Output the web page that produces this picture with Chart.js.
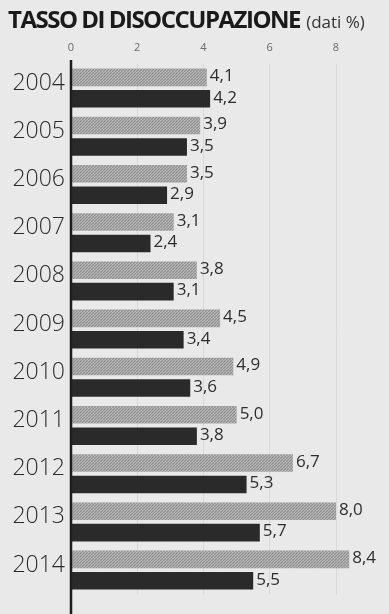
<html lang="it">
<head>
    <meta charset="UTF-8">
    <title>Tasso di disoccupazione</title>
    <script src="https://cdn.jsdelivr.net/npm/chart.js"></script>
    <style>
        html, body { margin: 0; padding: 0; background: #e9e9e9; }
        #wrap { position: relative; width: 389px; height: 614px; overflow: hidden; }
        #title {
            position: absolute; left: 8px; top: 2px; white-space: nowrap;
            font-family: "Open Sans", sans-serif; color: #1a1a1a;
        }
        #title b { font-size: 24px; font-weight: 700; font-stretch: 100%; }
        #title span { font-size: 17px; font-weight: 400; color: #333; margin-left: 2px; }
        canvas { position: absolute; left: 0; top: 0; }
    </style>
</head>
<body>
<div id="wrap">
    <canvas id="myChart" width="389" height="614"></canvas>
    <div id="title"><b id="main">TASSO DI DISOCCUPAZIONE</b> <span>(dati %)</span></div>
</div>

<script>
    // data
    const years = ['2004', '2005', '2006', '2007', '2008', '2009', '2010', '2011', '2012', '2013', '2014'];
    const greyValues = [4.1, 3.9, 3.5, 3.1, 3.8, 4.5, 4.9, 5.0, 6.7, 8.0, 8.4];
    const blackValues = [4.2, 3.5, 2.9, 2.4, 3.1, 3.4, 3.6, 3.8, 5.3, 5.7, 5.5];
    const xTicks = [0, 2, 4, 6, 8];

    // tighten the bold title to the width it has in the paper
    var main = document.getElementById('main');
    var w = main.getBoundingClientRect().width;
    main.style.letterSpacing = ((292 - w) / main.textContent.length) + 'px';

    // small halftone pattern for the grey bars
    function greyPattern() {
        var c = document.createElement('canvas');
        c.width = 3; c.height = 3;
        var g = c.getContext('2d');
        g.fillStyle = '#a8a8a8'; g.fillRect(0, 0, 3, 3);
        g.fillStyle = '#909090'; g.fillRect(0, 0, 1, 1); g.fillRect(1, 2, 1, 1); g.fillRect(2, 1, 1, 1);
        g.fillStyle = '#bababa'; g.fillRect(1, 0, 1, 1); g.fillRect(0, 2, 1, 1);
        return g.createPattern(c, 'repeat');
    }

    // value labels at the end of each bar + axis line
    const extras = {
        id: 'extras',
        afterDatasetsDraw(chart) {
            var ctx = chart.ctx;
            ctx.save();
            ctx.font = '17px "Open Sans", sans-serif';
            ctx.fillStyle = '#2e2e2e';
            ctx.textBaseline = 'middle';
            chart.data.datasets.forEach(function (ds, i) {
                chart.getDatasetMeta(i).data.forEach(function (bar, j) {
                    var txt = ds.data[j].toFixed(1).replace('.', ',');
                    ctx.fillText(txt, bar.x + 3, bar.y - 1);
                });
            });
            var a = chart.chartArea;
            ctx.strokeStyle = '#1c1c1c';
            ctx.lineWidth = 2.5;
            ctx.beginPath();
            ctx.moveTo(a.left, a.top - 4);
            ctx.lineTo(a.left, chart.height);
            ctx.stroke();
            ctx.restore();
        }
    };

    var ctx = document.getElementById('myChart').getContext('2d');
    var myChart = new Chart(ctx, {
        type: 'bar',
        data: {
            labels: years,
            datasets: [{
                label: 'grigio',
                data: greyValues,
                backgroundColor: greyPattern(),
                categoryPercentage: 0.89,
                barPercentage: 0.82
            }, {
                label: 'nero',
                data: blackValues,
                backgroundColor: '#2a2a2a',
                categoryPercentage: 0.89,
                barPercentage: 0.82
            }]
        },
        options: {
            indexAxis: 'y',
            responsive: false,
            animation: false,
            layout: { padding: { top: 30, right: 0, bottom: 7, left: 0 } },
            plugins: {
                legend: { display: false },
                tooltip: { enabled: false }
            },
            scales: {
                x: {
                    position: 'top',
                    min: 0,
                    max: 9.6,
                    afterBuildTicks: function (s) { s.ticks = xTicks.map(function (v) { return { value: v }; }); },
                    afterFit: function (s) { s.height = 34; },
                    grid: { color: 'rgba(0,0,0,0.07)', drawTicks: false },
                    border: { display: false },
                    ticks: {
                        padding: 10,
                        color: '#6a6a6a',
                        font: { family: 'Open Sans', size: 11 }
                    }
                },
                y: {
                    afterFit: function (s) { s.width = 71; },
                    grid: { display: false, drawTicks: false },
                    border: { display: false },
                    ticks: {
                        padding: 6,
                        labelOffset: -5,
                        color: '#2a2a2a',
                        font: { family: 'Open Sans', size: 23, weight: '300' }
                    }
                }
            }
        },
        plugins: [extras]
    });
</script>
</body>
</html>
